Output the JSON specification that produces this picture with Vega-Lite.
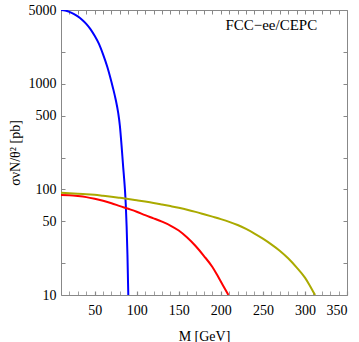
{
  "$schema": "https://vega.github.io/schema/vega-lite/v6.json",
  "autosize": {"type": "none"},
  "width": 286,
  "height": 285,
  "padding": {"left": 61, "top": 10, "right": 12, "bottom": 47},
  "background": "white",
  "config": {
    "view": {"stroke": "#888888", "strokeWidth": 1},
    "font": "Liberation Serif",
    "axis": {
      "domain": false,
      "grid": false,
      "tickColor": "#888888",
      "labelColor": "black",
      "titleColor": "black",
      "labelFont": "Liberation Serif",
      "titleFont": "Liberation Serif",
      "labelFontSize": 14,
      "titleFontSize": 14,
      "titleFontWeight": "normal"
    }
  },
  "datasets": {
    "curves": [
      {"M": 10, "sigma": 5000, "series": "blue"},
      {"M": 15, "sigma": 4950, "series": "blue"},
      {"M": 20, "sigma": 4800, "series": "blue"},
      {"M": 25, "sigma": 4600, "series": "blue"},
      {"M": 30, "sigma": 4350, "series": "blue"},
      {"M": 35, "sigma": 4050, "series": "blue"},
      {"M": 40, "sigma": 3700, "series": "blue"},
      {"M": 45, "sigma": 3300, "series": "blue"},
      {"M": 50, "sigma": 2850, "series": "blue"},
      {"M": 55, "sigma": 2400, "series": "blue"},
      {"M": 60, "sigma": 1900, "series": "blue"},
      {"M": 65, "sigma": 1450, "series": "blue"},
      {"M": 70, "sigma": 1040, "series": "blue"},
      {"M": 72, "sigma": 900, "series": "blue"},
      {"M": 75, "sigma": 710, "series": "blue"},
      {"M": 78, "sigma": 530, "series": "blue"},
      {"M": 80, "sigma": 400, "series": "blue"},
      {"M": 82, "sigma": 260, "series": "blue"},
      {"M": 84, "sigma": 160, "series": "blue"},
      {"M": 85, "sigma": 128, "series": "blue"},
      {"M": 86, "sigma": 100, "series": "blue"},
      {"M": 87, "sigma": 72, "series": "blue"},
      {"M": 88, "sigma": 45, "series": "blue"},
      {"M": 89, "sigma": 24, "series": "blue"},
      {"M": 89.7, "sigma": 13, "series": "blue"},
      {"M": 90, "sigma": 10, "series": "blue"},
      {"M": 10, "sigma": 88.5, "series": "red"},
      {"M": 20, "sigma": 88, "series": "red"},
      {"M": 30, "sigma": 86.5, "series": "red"},
      {"M": 40, "sigma": 84.5, "series": "red"},
      {"M": 50, "sigma": 81.5, "series": "red"},
      {"M": 60, "sigma": 78, "series": "red"},
      {"M": 70, "sigma": 74, "series": "red"},
      {"M": 80, "sigma": 69.5, "series": "red"},
      {"M": 90, "sigma": 65.5, "series": "red"},
      {"M": 100, "sigma": 61.5, "series": "red"},
      {"M": 110, "sigma": 57, "series": "red"},
      {"M": 120, "sigma": 53.2, "series": "red"},
      {"M": 130, "sigma": 49.5, "series": "red"},
      {"M": 140, "sigma": 45.5, "series": "red"},
      {"M": 150, "sigma": 40.8, "series": "red"},
      {"M": 160, "sigma": 35, "series": "red"},
      {"M": 170, "sigma": 29.1, "series": "red"},
      {"M": 180, "sigma": 23.4, "series": "red"},
      {"M": 190, "sigma": 18.4, "series": "red"},
      {"M": 195, "sigma": 15.8, "series": "red"},
      {"M": 200, "sigma": 13.4, "series": "red"},
      {"M": 205, "sigma": 11.4, "series": "red"},
      {"M": 209, "sigma": 10, "series": "red"},
      {"M": 10, "sigma": 93, "series": "olive"},
      {"M": 20, "sigma": 92, "series": "olive"},
      {"M": 30, "sigma": 91.2, "series": "olive"},
      {"M": 40, "sigma": 90.2, "series": "olive"},
      {"M": 50, "sigma": 88.8, "series": "olive"},
      {"M": 60, "sigma": 87, "series": "olive"},
      {"M": 70, "sigma": 85.2, "series": "olive"},
      {"M": 80, "sigma": 83.2, "series": "olive"},
      {"M": 90, "sigma": 81.2, "series": "olive"},
      {"M": 100, "sigma": 79, "series": "olive"},
      {"M": 110, "sigma": 76.8, "series": "olive"},
      {"M": 120, "sigma": 74.5, "series": "olive"},
      {"M": 130, "sigma": 72, "series": "olive"},
      {"M": 140, "sigma": 69.5, "series": "olive"},
      {"M": 150, "sigma": 67, "series": "olive"},
      {"M": 160, "sigma": 64.3, "series": "olive"},
      {"M": 170, "sigma": 61.3, "series": "olive"},
      {"M": 180, "sigma": 58.2, "series": "olive"},
      {"M": 190, "sigma": 55.2, "series": "olive"},
      {"M": 200, "sigma": 52.3, "series": "olive"},
      {"M": 210, "sigma": 49.3, "series": "olive"},
      {"M": 220, "sigma": 46, "series": "olive"},
      {"M": 230, "sigma": 42.2, "series": "olive"},
      {"M": 240, "sigma": 38.2, "series": "olive"},
      {"M": 250, "sigma": 34.2, "series": "olive"},
      {"M": 260, "sigma": 30.2, "series": "olive"},
      {"M": 270, "sigma": 26.3, "series": "olive"},
      {"M": 280, "sigma": 22.3, "series": "olive"},
      {"M": 290, "sigma": 18.3, "series": "olive"},
      {"M": 300, "sigma": 14.6, "series": "olive"},
      {"M": 305, "sigma": 12.6, "series": "olive"},
      {"M": 310, "sigma": 10.7, "series": "olive"},
      {"M": 312, "sigma": 10, "series": "olive"}
    ],
    "note": [
      {"M": 260, "sigma": 3600, "label": "FCC−ee/CEPC"}
    ]
  },
  "layer": [
    {
      "data": {"name": "curves"},
      "mark": {"type": "line", "strokeWidth": 2, "clip": true, "interpolate": "monotone"},
      "encoding": {
        "x": {
          "field": "M", "type": "quantitative",
          "scale": {"domain": [10, 350], "nice": false, "zero": false},
          "axis": {
            "orient": "bottom",
            "title": "M [GeV]",
            "values": [20, 30, 40, 50, 60, 70, 80, 90, 100, 110, 120, 130, 140, 150, 160, 170, 180, 190, 200, 210, 220, 230, 240, 250, 260, 270, 280, 290, 300, 310, 320, 330, 340, 350],
            "labelExpr": "datum.value % 50 === 0 ? datum.label : ''",
            "tickSize": -4,
            "tickWidth": {"condition": {"test": "datum.value % 50 === 0", "value": 1.2}, "value": 0.8},
            "labelPadding": 12,
            "titlePadding": 12
          }
        },
        "y": {
          "field": "sigma", "type": "quantitative",
          "scale": {"type": "log", "domain": [10, 5000], "nice": false},
          "axis": {
            "orient": "left",
            "title": "σνN/θ² [pb]",
            "values": [10, 20, 50, 100, 200, 500, 1000, 2000, 5000],
            "labelExpr": "(datum.value === 20 || datum.value === 200 || datum.value === 2000) ? '' : datum.label",
            "format": "d",
            "tickSize": -4,
            "labelPadding": 9,
            "titlePadding": 6
          }
        },
        "color": {
          "field": "series", "type": "nominal",
          "scale": {"domain": ["blue", "red", "olive"], "range": ["#0000ff", "#ff0000", "#aaaa00"]},
          "legend": null
        }
      }
    },
    {
      "data": {"name": "curves"},
      "mark": {"type": "line", "strokeOpacity": 0},
      "encoding": {
        "x": {
          "field": "M", "type": "quantitative",
          "axis": {
            "orient": "top",
            "title": null,
            "labels": false,
            "values": [20, 30, 40, 50, 60, 70, 80, 90, 100, 110, 120, 130, 140, 150, 160, 170, 180, 190, 200, 210, 220, 230, 240, 250, 260, 270, 280, 290, 300, 310, 320, 330, 340, 350],
            "tickSize": -4
          }
        },
        "y": {
          "field": "sigma", "type": "quantitative",
          "axis": {
            "orient": "right",
            "title": null,
            "labels": false,
            "values": [10, 20, 50, 100, 200, 500, 1000, 2000, 5000],
            "tickSize": -4
          }
        },
        "detail": {"field": "series", "type": "nominal"}
      }
    },
    {
      "data": {"name": "note"},
      "mark": {"type": "text", "font": "Liberation Serif", "fontSize": 15, "color": "black", "align": "center", "baseline": "middle"},
      "encoding": {
        "x": {"field": "M", "type": "quantitative", "axis": null},
        "y": {"field": "sigma", "type": "quantitative", "axis": null},
        "text": {"field": "label", "type": "nominal"}
      }
    }
  ],
  "resolve": {"axis": {"x": "independent", "y": "independent"}}
}
